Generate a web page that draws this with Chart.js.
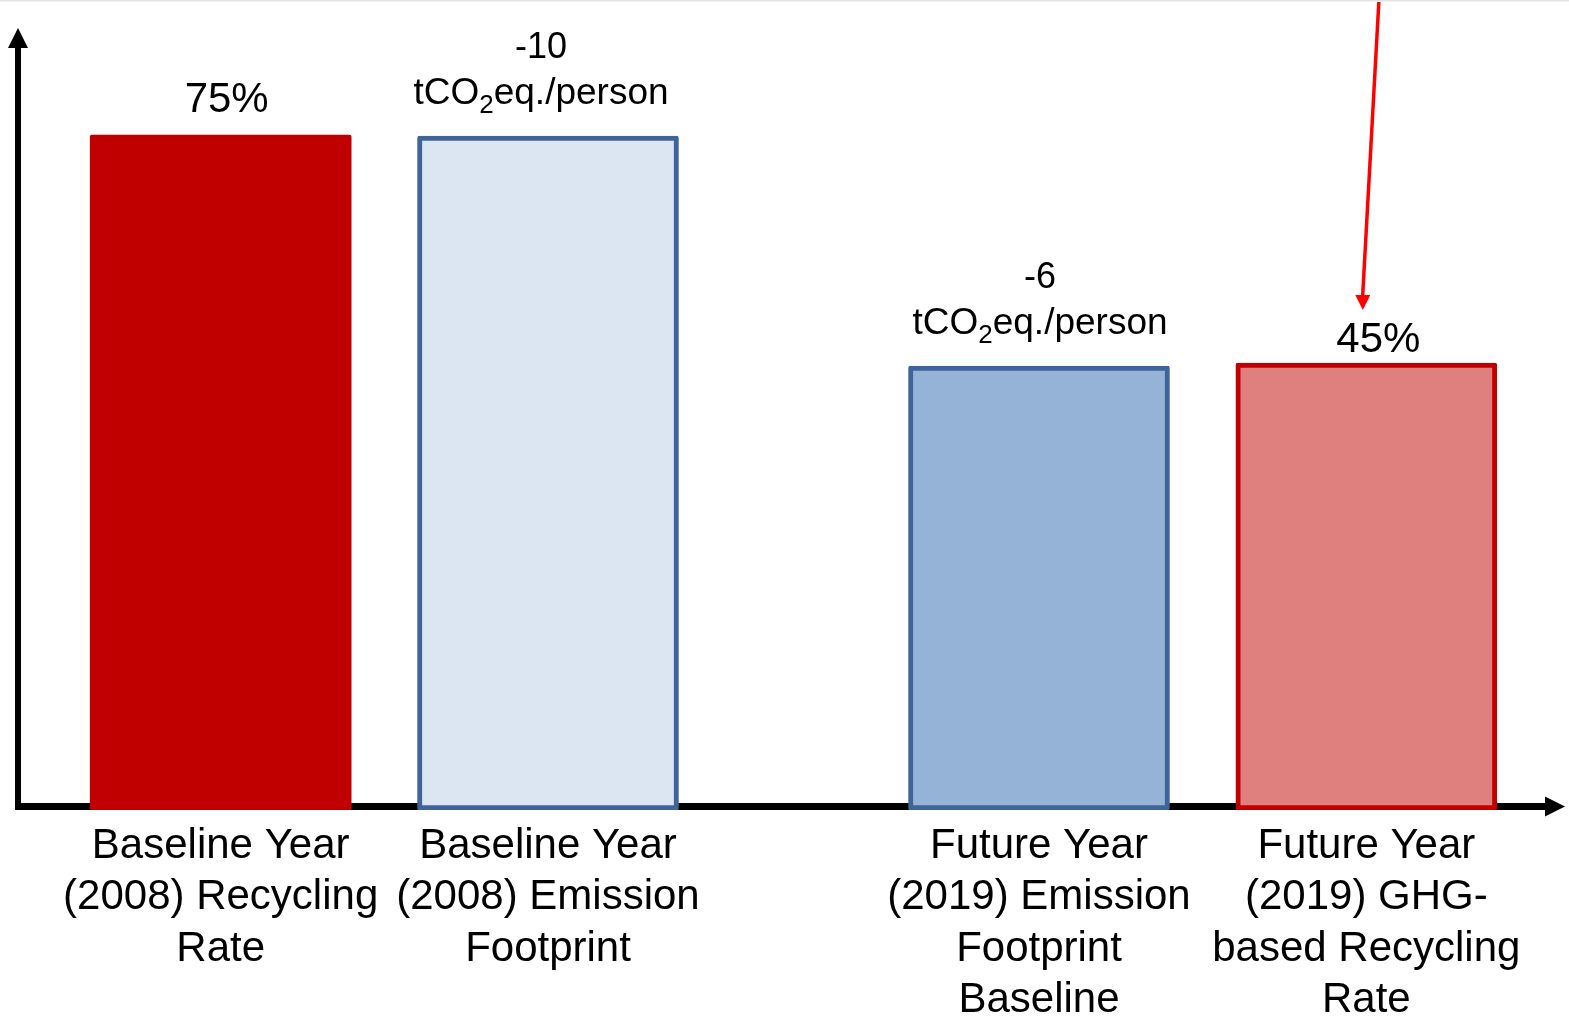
<!DOCTYPE html>
<html>
<head>
<meta charset="utf-8">
<title>Recycling rate and emission footprint</title>
<script src="https://cdn.jsdelivr.net/npm/chart.js@4.4.1/dist/chart.umd.min.js"></script>
<style>
  html, body { margin: 0; padding: 0; background: #ffffff; }
  #wrap { position: relative; width: 1569px; height: 1019px; }
</style>
</head>
<body>
<div id="wrap"><canvas id="chart"></canvas></div>
<script>
// ---- data ----
const categories = [
  ['Baseline Year', '(2008) Recycling', 'Rate'],
  ['Baseline Year', '(2008) Emission', 'Footprint'],
  ['Future Year', '(2019) Emission', 'Footprint', 'Baseline'],
  ['Future Year', '(2019) GHG-', 'based Recycling', 'Rate']
];
const recyclingRate = [75, null, null, 45];        // percent
const emissionFootprint = [null, -10, -6, null];   // tCO2eq. per person

// ---- layout ----
// blank columns on the category axis before each bar (and after the last one)
const blankSlotsBefore = [1, 1, 2, 1];
const blankSlotsAfter = 1;

const fillColors = ['#C00000', '#DCE6F2', '#95B3D7', '#DF807E'];
const edgeColors = ['#C00000', '#3F6499', '#3F6499', '#C00000'];
const edgeWidths = [0, 5, 5, 5];
const labelShiftX = [6, -7, 1, 12];
const rateLabelGap = [23, 0, 0, 11];

const FONT = "'Liberation Sans', Arial, Helvetica, sans-serif";

// expand the categories into axis columns
const slotLabels = [];
const slotCategory = [];
const rateSlots = [];
const emissionSlots = [];
const categorySlot = [];
categories.forEach((cat, i) => {
  for (let s = 0; s < blankSlotsBefore[i]; s++) {
    slotLabels.push(''); slotCategory.push(-1); rateSlots.push(null); emissionSlots.push(null);
  }
  categorySlot.push(slotLabels.length);
  slotLabels.push(cat);
  slotCategory.push(i);
  rateSlots.push(recyclingRate[i]);
  emissionSlots.push(emissionFootprint[i]);
});
for (let s = 0; s < blankSlotsAfter; s++) {
  slotLabels.push(''); slotCategory.push(-1); rateSlots.push(null); emissionSlots.push(null);
}

// value ranges of the two (hidden) value axes
const RATE_MIN = -13.8, RATE_MAX = 90;
const EMIS_TOP = -12, EMIS_BOTTOM = 1.72;

const pick = (arr, fallback) => (ctx) => {
  const c = slotCategory[ctx.dataIndex];
  return c >= 0 ? arr[c] : fallback;
};

// axes with arrowheads, drawn beneath the bars
const axisArrows = {
  id: 'axisArrows',
  beforeDatasetsDraw(chart) {
    const { ctx, chartArea: a } = chart;
    const yAxisX = a.left - 39;
    const xAxisY = a.bottom - 3.5;
    ctx.save();
    ctx.fillStyle = '#e4e4e4';
    ctx.fillRect(0, 0, chart.width, 1.5);
    ctx.fillStyle = '#000';
    ctx.strokeStyle = '#000';
    ctx.lineCap = 'butt';
    ctx.lineWidth = 6;
    ctx.beginPath();
    ctx.moveTo(yAxisX, xAxisY + 3);
    ctx.lineTo(yAxisX, a.top + 26);
    ctx.stroke();
    ctx.beginPath();
    ctx.moveTo(yAxisX, a.top + 7);
    ctx.lineTo(yAxisX - 10, a.top + 27);
    ctx.lineTo(yAxisX + 10, a.top + 27);
    ctx.closePath();
    ctx.fill();
    ctx.lineWidth = 7;
    ctx.beginPath();
    ctx.moveTo(yAxisX - 3, xAxisY);
    ctx.lineTo(a.right + 16, xAxisY);
    ctx.stroke();
    ctx.beginPath();
    ctx.moveTo(a.right + 35, xAxisY);
    ctx.lineTo(a.right + 15, xAxisY - 10);
    ctx.lineTo(a.right + 15, xAxisY + 10);
    ctx.closePath();
    ctx.fill();
    ctx.restore();
  }
};

// value labels above the bars and the pointer arrow
const barNotes = {
  id: 'barNotes',
  afterDatasetsDraw(chart) {
    const { ctx } = chart;
    const rateMeta = chart.getDatasetMeta(0);
    const emisMeta = chart.getDatasetMeta(1);
    ctx.save();
    ctx.fillStyle = '#000';
    ctx.textBaseline = 'alphabetic';
    categories.forEach((cat, i) => {
      const slot = categorySlot[i];
      if (recyclingRate[i] != null) {
        const bar = rateMeta.data[slot];
        ctx.font = '42px ' + FONT;
        ctx.textAlign = 'center';
        ctx.fillText(recyclingRate[i] + '%', bar.x + labelShiftX[i], bar.y - rateLabelGap[i]);
      } else if (emissionFootprint[i] != null) {
        const bar = emisMeta.data[slot];
        const cx = bar.x + labelShiftX[i];
        ctx.font = '36px ' + FONT;
        ctx.textAlign = 'center';
        ctx.fillText(String(emissionFootprint[i]), cx, bar.y - 78);
        // unit line: tCO2eq./person with subscript 2
        const big = '37px ' + FONT, small = '26px ' + FONT;
        ctx.font = big;
        const w1 = ctx.measureText('tCO').width;
        const w3 = ctx.measureText('eq./person').width;
        ctx.font = small;
        const w2 = ctx.measureText('2').width;
        let x = cx - (w1 + w2 + w3) / 2;
        const base = bar.y - 32;
        ctx.textAlign = 'left';
        ctx.font = big;
        ctx.fillText('tCO', x, base); x += w1;
        ctx.font = small;
        ctx.fillText('2', x, base + 9); x += w2;
        ctx.font = big;
        ctx.fillText('eq./person', x, base);
      }
    });

    // red pointer onto the future recycling rate
    const target = rateMeta.data[categorySlot[3]];
    const tipX = target.x - 3.5, tipY = target.y - 53;
    ctx.strokeStyle = '#FF0000';
    ctx.fillStyle = '#FF0000';
    ctx.lineWidth = 3.5;
    ctx.beginPath();
    ctx.moveTo(target.x + 12.5, 2);
    ctx.lineTo(tipX - 0.2, tipY - 14);
    ctx.stroke();
    ctx.beginPath();
    ctx.moveTo(tipX, tipY);
    ctx.lineTo(tipX - 7.5, tipY - 15);
    ctx.lineTo(tipX + 7.5, tipY - 15);
    ctx.closePath();
    ctx.fill();
    ctx.restore();
  }
};

const barCommon = {
  grouped: false,
  barThickness: 261,
  borderSkipped: false,
  borderRadius: 2,
  backgroundColor: pick(fillColors, 'transparent'),
  borderColor: pick(edgeColors, 'transparent'),
  borderWidth: pick(edgeWidths, 0)
};

new Chart(document.getElementById('chart'), {
  type: 'bar',
  data: {
    labels: slotLabels,
    datasets: [
      Object.assign({ label: 'Recycling rate (%)', data: rateSlots, yAxisID: 'yRate', base: RATE_MIN }, barCommon),
      Object.assign({ label: 'Emission footprint (tCO2eq./person)', data: emissionSlots, yAxisID: 'yEmis', base: EMIS_BOTTOM }, barCommon)
    ]
  },
  options: {
    responsive: true,
    maintainAspectRatio: false,
    animation: false,
    layout: { padding: { left: 57, right: 39, top: 21, bottom: 0 } },
    plugins: { legend: { display: false }, tooltip: { enabled: false } },
    scales: {
      x: {
        type: 'category',
        offset: false,
        grid: { display: false, drawTicks: false },
        border: { display: false },
        ticks: {
          autoSkip: false,
          maxRotation: 0,
          minRotation: 0,
          padding: 11,
          color: '#000',
          font: { family: FONT, size: 42, lineHeight: 1.22 }
        },
        afterFit(scale) { scale.height = 209; }
      },
      yRate: {
        type: 'linear',
        display: false,
        bounds: 'data',
        min: RATE_MIN,
        max: RATE_MAX
      },
      yEmis: {
        type: 'linear',
        display: false,
        reverse: true,
        bounds: 'data',
        min: EMIS_TOP,
        max: EMIS_BOTTOM
      }
    }
  },
  plugins: [axisArrows, barNotes]
});
</script>
</body>
</html>
